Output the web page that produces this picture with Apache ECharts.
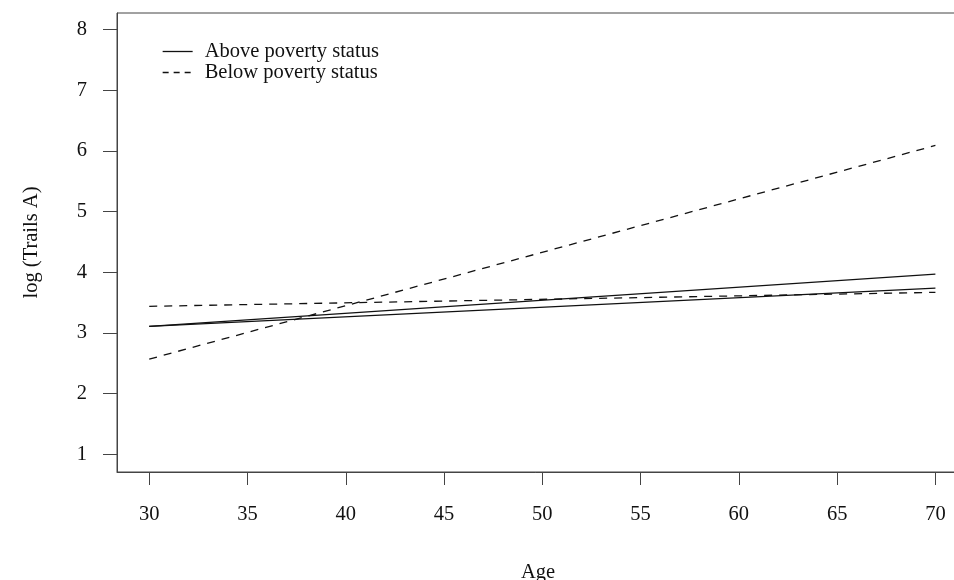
<!DOCTYPE html>
<html>
<head>
<meta charset="utf-8">
<script src="https://cdn.jsdelivr.net/npm/echarts@6/dist/echarts.min.js"></script>
<style>html,body{margin:0;padding:0;background:#fff}#c{width:954px;height:580px}</style>
</head>
<body>
<div id="c"></div>
<script>
var ages = [30, 70];
var aboveUpper = [3.11, 3.97];
var aboveLower = [3.11, 3.74];
var belowSteep = [2.57, 6.09];
var belowFlat = [3.44, 3.67];
var xTicks = [30, 35, 40, 45, 50, 55, 60, 65, 70];
var yTicks = [1, 2, 3, 4, 5, 6, 7, 8];
var seriesNames = ['Above poverty status', 'Below poverty status'];

function pairs(v) { return ages.map(function (a, i) { return [a, v[i]]; }); }

var FONT = 'Liberation Serif';
var FS = 20.5;
var chart = echarts.init(document.getElementById('c'));
var dash = [8, 7];
function line(name, vals, dashed) {
  return {
    type: 'line', name: name, data: pairs(vals), symbol: 'none', silent: true,
    lineStyle: { color: '#111', width: 1.3, type: dashed ? dash : 'solid' },
    itemStyle: { color: '#111' }
  };
}
chart.setOption({
  animation: false,
  backgroundColor: '#fff',
  grid: { left: 117, top: 13, bottom: 108, width: 842, show: true, borderColor: '#444', borderWidth: 1,
          containLabel: false, outerBoundsMode: 'none' },
  legend: {
    orient: 'vertical', left: 157, top: 36, itemWidth: 30, itemHeight: 12, itemGap: 0,
    selectedMode: false,
    textStyle: { fontFamily: FONT, fontSize: FS, lineHeight: 21, color: '#111', padding: [0, 0, 0, 7] },
    data: [
      { name: seriesNames[0], itemStyle: { opacity: 0 }, lineStyle: { type: 'solid', color: '#111', width: 1.3 } },
      { name: seriesNames[1], itemStyle: { opacity: 0 }, lineStyle: { type: [6, 5], color: '#111', width: 1.3 } }
    ]
  },
  xAxis: {
    type: 'value', min: 28.36, max: 71.2,
    name: 'Age', nameLocation: 'middle', nameGap: 90,
    nameTextStyle: { fontFamily: FONT, fontSize: FS, color: '#111' },
    axisLine: { show: true, lineStyle: { color: '#444', width: 1 } },
    axisTick: { show: true, length: 13, customValues: xTicks, lineStyle: { color: '#444' } },
    axisLabel: { customValues: xTicks, margin: 32, fontFamily: FONT, fontSize: FS, color: '#111' },
    splitLine: { show: false }
  },
  yAxis: {
    type: 'value', min: 0.71, max: 8.273,
    name: 'log (Trails A)', nameLocation: 'middle', nameGap: 75, nameRotate: 90,
    nameTextStyle: { fontFamily: FONT, fontSize: FS, color: '#111' },
    axisLine: { show: true, lineStyle: { color: '#444', width: 1 } },
    axisTick: { show: true, length: 14, customValues: yTicks, lineStyle: { color: '#444' } },
    axisLabel: { customValues: yTicks, margin: 30, fontFamily: FONT, fontSize: FS, color: '#111' },
    splitLine: { show: false }
  },
  series: [
    line(seriesNames[0], aboveUpper, false),
    line(seriesNames[0], aboveLower, false),
    line(seriesNames[1], belowSteep, true),
    line(seriesNames[1], belowFlat, true)
  ]
});
</script>
</body>
</html>
